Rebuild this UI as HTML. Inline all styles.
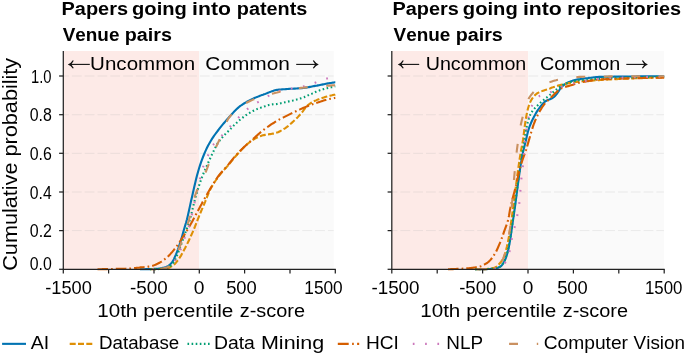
<!DOCTYPE html>
<html><head><meta charset="utf-8"><title>Cumulative probability of venue pairs</title>
<style>
html,body{margin:0;padding:0;background:#fff;}
svg{display:block;font-family:"Liberation Sans",sans-serif;}
text{fill:#000;font-kerning:none;white-space:pre;}
</style></head>
<body>
<svg width="685" height="355" viewBox="0 0 685 355">
<rect width="685" height="355" fill="#fff"/>
<rect x="63.3" y="51.0" width="135.7" height="218.3" fill="#fdeae7"/>
<rect x="199.0" y="51.0" width="134.7" height="218.3" fill="#fafafa"/>
<line x1="63.3" x2="333.7" y1="230.6" y2="230.6" stroke="#b0b0b0" stroke-opacity="0.26" stroke-width="0.9" stroke-dasharray="9.8 3" stroke-dashoffset="4.2"/>
<line x1="63.3" x2="333.7" y1="192.0" y2="192.0" stroke="#b0b0b0" stroke-opacity="0.26" stroke-width="0.9" stroke-dasharray="9.8 3" stroke-dashoffset="4.2"/>
<line x1="63.3" x2="333.7" y1="153.3" y2="153.3" stroke="#b0b0b0" stroke-opacity="0.26" stroke-width="0.9" stroke-dasharray="9.8 3" stroke-dashoffset="4.2"/>
<line x1="63.3" x2="333.7" y1="114.7" y2="114.7" stroke="#b0b0b0" stroke-opacity="0.26" stroke-width="0.9" stroke-dasharray="9.8 3" stroke-dashoffset="4.2"/>
<line x1="63.3" x2="333.7" y1="76.0" y2="76.0" stroke="#b0b0b0" stroke-opacity="0.26" stroke-width="0.9" stroke-dasharray="9.8 3" stroke-dashoffset="4.2"/>
<path d="M140.0,269.2 L141.0,269.2 L142.0,269.2 L143.0,269.2 L144.0,269.2 L145.0,269.2 L146.0,269.1 L147.0,269.1 L148.0,269.1 L149.0,269.1 L150.0,269.1 L151.0,269.0 L152.0,269.0 L153.0,269.0 L154.0,268.9 L155.0,268.9 L156.0,268.8 L157.0,268.8 L158.0,268.7 L159.0,268.6 L160.0,268.5 L161.0,268.3 L162.0,268.1 L163.0,267.8 L164.0,267.6 L165.0,267.3 L166.0,266.9 L167.0,266.6 L168.0,266.1 L169.0,265.4 L170.0,264.5 L171.0,263.5 L172.0,262.4 L173.0,260.9 L174.0,259.0 L175.0,256.7 L176.0,254.4 L177.0,251.9 L178.0,249.3 L179.0,246.4 L180.0,243.3 L181.0,240.1 L182.0,236.7 L183.0,233.0 L184.0,229.5 L185.0,226.1 L186.0,222.8 L187.0,219.2 L188.0,215.1 L189.0,210.6 L190.0,205.9 L191.0,201.3 L192.0,197.0 L193.0,192.6 L194.0,188.1 L195.0,183.8 L196.0,179.6 L197.0,175.6 L198.0,171.9 L199.0,168.5 L200.0,165.4 L201.0,162.4 L202.0,159.6 L203.0,157.0 L204.0,154.5 L205.0,152.2 L206.0,149.9 L207.0,147.8 L208.0,145.8 L209.0,144.0 L210.0,142.2 L211.0,140.5 L212.0,138.9 L213.0,137.4 L214.0,135.9 L215.0,134.5 L216.0,133.1 L217.0,131.8 L218.0,130.5 L219.0,129.2 L220.0,127.9 L221.0,126.6 L222.0,125.4 L223.0,124.2 L224.0,123.0 L225.0,121.8 L226.0,120.6 L227.0,119.5 L228.0,118.4 L229.0,117.3 L230.0,116.2 L231.0,115.1 L232.0,114.0 L233.0,112.9 L234.0,111.8 L235.0,110.8 L236.0,109.8 L237.0,108.8 L238.0,107.9 L239.0,107.0 L240.0,106.2 L241.0,105.5 L242.0,104.8 L243.0,104.1 L244.0,103.5 L245.0,102.9 L246.0,102.3 L247.0,101.7 L248.0,101.1 L249.0,100.6 L250.0,100.1 L251.0,99.6 L252.0,99.1 L253.0,98.7 L254.0,98.2 L255.0,97.8 L256.0,97.4 L257.0,97.0 L258.0,96.6 L259.0,96.2 L260.0,95.8 L261.0,95.4 L262.0,95.0 L263.0,94.7 L264.0,94.3 L265.0,94.0 L266.0,93.6 L267.0,93.2 L268.0,92.8 L269.0,92.4 L270.0,92.0 L271.0,91.6 L272.0,91.2 L273.0,90.9 L274.0,90.6 L275.0,90.3 L276.0,90.0 L277.0,89.9 L278.0,89.8 L279.0,89.6 L280.0,89.5 L281.0,89.5 L282.0,89.4 L283.0,89.3 L284.0,89.2 L285.0,89.2 L286.0,89.1 L287.0,89.0 L288.0,89.0 L289.0,88.9 L290.0,88.8 L291.0,88.8 L292.0,88.7 L293.0,88.7 L294.0,88.6 L295.0,88.6 L296.0,88.5 L297.0,88.5 L298.0,88.4 L299.0,88.3 L300.0,88.3 L301.0,88.2 L302.0,88.1 L303.0,88.0 L304.0,87.9 L305.0,87.8 L306.0,87.6 L307.0,87.5 L308.0,87.3 L309.0,87.1 L310.0,86.9 L311.0,86.7 L312.0,86.5 L313.0,86.3 L314.0,86.1 L315.0,85.9 L316.0,85.7 L317.0,85.6 L318.0,85.4 L319.0,85.2 L320.0,85.0 L321.0,84.8 L322.0,84.6 L323.0,84.4 L324.0,84.2 L325.0,84.0 L326.0,83.8 L327.0,83.6 L328.0,83.4 L329.0,83.3 L330.0,83.1 L331.0,83.0 L332.0,82.8 L333.0,82.6 L334.0,82.5 L335.0,82.3 L335.3,82.3" fill="none" stroke="#0173b2" stroke-width="2.1"/>
<path d="M150.0,269.2 L151.0,269.2 L152.0,269.2 L153.0,269.2 L154.0,269.2 L155.0,269.1 L156.0,269.1 L157.0,269.1 L158.0,269.1 L159.0,269.0 L160.0,269.0 L161.0,269.0 L162.0,268.9 L163.0,268.8 L164.0,268.7 L165.0,268.6 L166.0,268.4 L167.0,268.3 L168.0,268.0 L169.0,267.7 L170.0,267.2 L171.0,266.7 L172.0,266.1 L173.0,265.4 L174.0,264.7 L175.0,263.8 L176.0,262.7 L177.0,261.4 L178.0,260.1 L179.0,258.7 L180.0,257.2 L181.0,255.6 L182.0,253.8 L183.0,252.0 L184.0,250.1 L185.0,248.3 L186.0,246.3 L187.0,244.3 L188.0,242.3 L189.0,240.2 L190.0,238.0 L191.0,235.8 L192.0,233.6 L193.0,231.3 L194.0,228.9 L195.0,226.5 L196.0,223.9 L197.0,221.4 L198.0,218.8 L199.0,216.3 L200.0,213.9 L201.0,211.5 L202.0,209.2 L203.0,206.8 L204.0,204.5 L205.0,202.1 L206.0,199.5 L207.0,197.0 L208.0,194.5 L209.0,192.1 L210.0,190.0 L211.0,188.1 L212.0,186.3 L213.0,184.6 L214.0,183.0 L215.0,181.5 L216.0,180.0 L217.0,178.6 L218.0,177.2 L219.0,175.9 L220.0,174.6 L221.0,173.3 L222.0,172.2 L223.0,171.0 L224.0,169.9 L225.0,168.8 L226.0,167.7 L227.0,166.6 L228.0,165.5 L229.0,164.3 L230.0,163.1 L231.0,161.9 L232.0,160.6 L233.0,159.4 L234.0,158.2 L235.0,157.0 L236.0,155.8 L237.0,154.7 L238.0,153.5 L239.0,152.4 L240.0,151.4 L241.0,150.4 L242.0,149.3 L243.0,148.3 L244.0,147.3 L245.0,146.3 L246.0,145.3 L247.0,144.4 L248.0,143.5 L249.0,142.7 L250.0,141.9 L251.0,141.1 L252.0,140.5 L253.0,139.8 L254.0,139.2 L255.0,138.7 L256.0,138.1 L257.0,137.6 L258.0,137.1 L259.0,136.6 L260.0,136.2 L261.0,135.9 L262.0,135.6 L263.0,135.3 L264.0,135.1 L265.0,134.9 L266.0,134.7 L267.0,134.5 L268.0,134.4 L269.0,134.3 L270.0,134.1 L271.0,134.0 L272.0,133.8 L273.0,133.6 L274.0,133.4 L275.0,133.2 L276.0,132.9 L277.0,132.6 L278.0,132.2 L279.0,131.7 L280.0,131.2 L281.0,130.7 L282.0,130.1 L283.0,129.5 L284.0,128.9 L285.0,128.3 L286.0,127.6 L287.0,126.9 L288.0,126.1 L289.0,125.2 L290.0,124.4 L291.0,123.5 L292.0,122.6 L293.0,121.7 L294.0,120.8 L295.0,119.9 L296.0,118.9 L297.0,117.9 L298.0,116.9 L299.0,115.8 L300.0,114.7 L301.0,113.6 L302.0,112.4 L303.0,111.1 L304.0,109.7 L305.0,108.3 L306.0,107.0 L307.0,106.0 L308.0,105.1 L309.0,104.4 L310.0,103.7 L311.0,103.0 L312.0,102.4 L313.0,101.8 L314.0,101.3 L315.0,100.8 L316.0,100.4 L317.0,99.9 L318.0,99.5 L319.0,99.1 L320.0,98.7 L321.0,98.3 L322.0,98.0 L323.0,97.7 L324.0,97.4 L325.0,97.1 L326.0,96.8 L327.0,96.5 L328.0,96.2 L329.0,96.0 L330.0,95.7 L331.0,95.5 L332.0,95.3 L333.0,95.0 L334.0,94.8 L335.0,94.7 L335.3,94.6" fill="none" stroke="#de8f05" stroke-width="2.1" stroke-dasharray="6 2.3"/>
<path d="M150.0,269.2 L151.0,269.2 L152.0,269.2 L153.0,269.2 L154.0,269.2 L155.0,269.1 L156.0,269.1 L157.0,269.1 L158.0,269.1 L159.0,269.0 L160.0,269.0 L161.0,268.9 L162.0,268.8 L163.0,268.7 L164.0,268.4 L165.0,268.2 L166.0,267.9 L167.0,267.5 L168.0,267.1 L169.0,266.7 L170.0,266.2 L171.0,265.4 L172.0,264.4 L173.0,263.1 L174.0,261.6 L175.0,260.0 L176.0,258.0 L177.0,255.5 L178.0,252.9 L179.0,250.4 L180.0,247.7 L181.0,244.9 L182.0,242.1 L183.0,239.3 L184.0,236.4 L185.0,233.7 L186.0,231.0 L187.0,228.3 L188.0,225.5 L189.0,222.4 L190.0,219.1 L191.0,215.3 L192.0,211.4 L193.0,207.2 L194.0,203.1 L195.0,199.2 L196.0,195.5 L197.0,192.1 L198.0,188.9 L199.0,185.8 L200.0,182.8 L201.0,179.9 L202.0,177.2 L203.0,174.6 L204.0,172.2 L205.0,169.9 L206.0,167.6 L207.0,165.4 L208.0,163.2 L209.0,161.0 L210.0,158.8 L211.0,156.6 L212.0,154.4 L213.0,152.3 L214.0,150.3 L215.0,148.3 L216.0,146.3 L217.0,144.4 L218.0,142.8 L219.0,141.4 L220.0,140.1 L221.0,138.8 L222.0,137.7 L223.0,136.6 L224.0,135.6 L225.0,134.5 L226.0,133.5 L227.0,132.5 L228.0,131.5 L229.0,130.5 L230.0,129.4 L231.0,128.4 L232.0,127.4 L233.0,126.3 L234.0,125.3 L235.0,124.3 L236.0,123.4 L237.0,122.5 L238.0,121.6 L239.0,120.7 L240.0,119.8 L241.0,119.0 L242.0,118.2 L243.0,117.4 L244.0,116.6 L245.0,115.9 L246.0,115.2 L247.0,114.5 L248.0,113.9 L249.0,113.3 L250.0,112.7 L251.0,112.1 L252.0,111.5 L253.0,111.0 L254.0,110.5 L255.0,110.0 L256.0,109.6 L257.0,109.1 L258.0,108.7 L259.0,108.3 L260.0,108.0 L261.0,107.6 L262.0,107.2 L263.0,106.9 L264.0,106.5 L265.0,106.2 L266.0,105.8 L267.0,105.5 L268.0,105.2 L269.0,104.9 L270.0,104.7 L271.0,104.5 L272.0,104.4 L273.0,104.3 L274.0,104.2 L275.0,104.2 L276.0,104.1 L277.0,104.0 L278.0,103.8 L279.0,103.7 L280.0,103.5 L281.0,103.2 L282.0,103.0 L283.0,102.8 L284.0,102.5 L285.0,102.3 L286.0,102.1 L287.0,101.9 L288.0,101.6 L289.0,101.4 L290.0,101.2 L291.0,100.9 L292.0,100.7 L293.0,100.5 L294.0,100.2 L295.0,100.0 L296.0,99.7 L297.0,99.4 L298.0,99.2 L299.0,98.9 L300.0,98.6 L301.0,98.3 L302.0,98.0 L303.0,97.6 L304.0,97.3 L305.0,96.8 L306.0,96.4 L307.0,95.9 L308.0,95.4 L309.0,94.9 L310.0,94.5 L311.0,94.0 L312.0,93.6 L313.0,93.1 L314.0,92.7 L315.0,92.2 L316.0,91.8 L317.0,91.4 L318.0,91.0 L319.0,90.6 L320.0,90.2 L321.0,89.9 L322.0,89.6 L323.0,89.3 L324.0,89.0 L325.0,88.7 L326.0,88.4 L327.0,88.2 L328.0,87.9 L329.0,87.7 L330.0,87.5 L331.0,87.3 L332.0,87.1 L333.0,86.9 L334.0,86.7 L335.0,86.5 L335.3,86.5" fill="none" stroke="#029e73" stroke-width="2.1" stroke-dasharray="1.6 2.5"/>
<path d="M97.5,269.2 L98.5,269.2 L99.5,269.2 L100.5,269.2 L101.5,269.2 L102.5,269.1 L103.5,269.1 L104.5,269.1 L105.5,269.1 L106.5,269.1 L107.5,269.1 L108.5,269.0 L109.5,269.0 L110.5,269.0 L111.5,269.0 L112.5,269.0 L113.5,268.9 L114.5,268.9 L115.5,268.9 L116.5,268.9 L117.5,268.9 L118.5,268.8 L119.5,268.8 L120.5,268.8 L121.5,268.8 L122.5,268.7 L123.5,268.7 L124.5,268.7 L125.5,268.7 L126.5,268.6 L127.5,268.6 L128.5,268.6 L129.5,268.5 L130.5,268.5 L131.5,268.4 L132.5,268.3 L133.5,268.2 L134.5,268.1 L135.5,268.0 L136.5,267.9 L137.5,267.8 L138.5,267.7 L139.5,267.6 L140.5,267.4 L141.5,267.4 L142.5,267.3 L143.5,267.2 L144.5,267.1 L145.5,267.0 L146.5,266.9 L147.5,266.8 L148.5,266.6 L149.5,266.5 L150.5,266.3 L151.5,266.1 L152.5,265.8 L153.5,265.5 L154.5,265.1 L155.5,264.7 L156.5,264.2 L157.5,263.8 L158.5,263.3 L159.5,262.8 L160.5,262.2 L161.5,261.6 L162.5,260.9 L163.5,260.2 L164.5,259.4 L165.5,258.6 L166.5,257.7 L167.5,256.9 L168.5,255.9 L169.5,254.9 L170.5,253.9 L171.5,252.7 L172.5,251.6 L173.5,250.4 L174.5,249.1 L175.5,247.9 L176.5,246.6 L177.5,245.2 L178.5,243.8 L179.5,242.3 L180.5,240.7 L181.5,239.2 L182.5,237.6 L183.5,236.1 L184.5,234.5 L185.5,232.9 L186.5,231.3 L187.5,229.6 L188.5,227.9 L189.5,226.2 L190.5,224.5 L191.5,222.7 L192.5,220.9 L193.5,219.1 L194.5,217.2 L195.5,215.4 L196.5,213.5 L197.5,211.7 L198.5,209.8 L199.5,207.9 L200.5,206.0 L201.5,204.2 L202.5,202.3 L203.5,200.5 L204.5,198.7 L205.5,196.9 L206.5,195.2 L207.5,193.4 L208.5,191.7 L209.5,190.0 L210.5,188.3 L211.5,186.7 L212.5,185.1 L213.5,183.5 L214.5,181.9 L215.5,180.3 L216.5,178.8 L217.5,177.3 L218.5,175.9 L219.5,174.6 L220.5,173.4 L221.5,172.2 L222.5,171.1 L223.5,170.0 L224.5,169.0 L225.5,167.9 L226.5,166.8 L227.5,165.6 L228.5,164.4 L229.5,163.1 L230.5,161.8 L231.5,160.6 L232.5,159.4 L233.5,158.2 L234.5,157.0 L235.5,155.8 L236.5,154.7 L237.5,153.6 L238.5,152.5 L239.5,151.4 L240.5,150.4 L241.5,149.4 L242.5,148.5 L243.5,147.5 L244.5,146.6 L245.5,145.7 L246.5,144.8 L247.5,143.9 L248.5,143.1 L249.5,142.2 L250.5,141.3 L251.5,140.4 L252.5,139.5 L253.5,138.6 L254.5,137.7 L255.5,136.8 L256.5,135.9 L257.5,135.0 L258.5,134.1 L259.5,133.2 L260.5,132.4 L261.5,131.6 L262.5,130.8 L263.5,130.0 L264.5,129.2 L265.5,128.5 L266.5,127.7 L267.5,127.0 L268.5,126.3 L269.5,125.6 L270.5,124.9 L271.5,124.2 L272.5,123.6 L273.5,123.0 L274.5,122.3 L275.5,121.7 L276.5,121.1 L277.5,120.6 L278.5,120.0 L279.5,119.4 L280.5,118.9 L281.5,118.4 L282.5,117.9 L283.5,117.4 L284.5,116.9 L285.5,116.4 L286.5,115.9 L287.5,115.4 L288.5,114.9 L289.5,114.4 L290.5,113.9 L291.5,113.4 L292.5,112.9 L293.5,112.4 L294.5,112.0 L295.5,111.5 L296.5,111.0 L297.5,110.5 L298.5,110.1 L299.5,109.6 L300.5,109.1 L301.5,108.7 L302.5,108.3 L303.5,107.8 L304.5,107.4 L305.5,107.0 L306.5,106.6 L307.5,106.2 L308.5,105.8 L309.5,105.4 L310.5,105.1 L311.5,104.7 L312.5,104.3 L313.5,104.0 L314.5,103.6 L315.5,103.3 L316.5,102.9 L317.5,102.6 L318.5,102.2 L319.5,101.9 L320.5,101.6 L321.5,101.2 L322.5,100.9 L323.5,100.6 L324.5,100.3 L325.5,100.0 L326.5,99.7 L327.5,99.4 L328.5,99.2 L329.5,99.0 L330.5,98.8 L331.5,98.6 L332.5,98.4 L333.5,98.2 L334.5,98.0 L335.3,97.9" fill="none" stroke="#d55e00" stroke-width="2.1" stroke-dasharray="10.6 3 1.7 3"/>
<path d="M150.0,269.2 L151.0,269.2 L152.0,269.2 L153.0,269.2 L154.0,269.2 L155.0,269.1 L156.0,269.1 L157.0,269.1 L158.0,269.1 L159.0,269.0 L160.0,269.0 L161.0,268.9 L162.0,268.8 L163.0,268.5 L164.0,268.2 L165.0,267.9 L166.0,267.5 L167.0,267.1 L168.0,266.6 L169.0,266.0 L170.0,265.2 L171.0,264.3 L172.0,263.3 L173.0,262.3 L174.0,261.2 L175.0,260.2 L176.0,259.0 L177.0,257.7 L178.0,256.1 L179.0,254.3 L180.0,251.7 L181.0,248.4 L182.0,245.0 L183.0,242.0 L184.0,239.5 L185.0,237.2 L186.0,234.9 L187.0,232.4 L188.0,229.5 L189.0,226.1 L190.0,222.3 L191.0,218.4 L192.0,214.3 L193.0,209.9 L194.0,205.3 L195.0,200.7 L196.0,196.0 L197.0,191.2 L198.0,186.9 L199.0,183.0 L200.0,179.2 L201.0,175.1 L202.0,170.9 L203.0,167.3 L204.0,164.5 L205.0,162.2 L206.0,160.1 L207.0,157.9 L208.0,155.5 L209.0,152.9 L210.0,150.3 L211.0,148.1 L212.0,146.4 L213.0,145.0 L214.0,143.9 L215.0,142.8 L216.0,141.8 L217.0,140.8 L218.0,139.8 L219.0,138.8 L220.0,137.7 L221.0,136.5 L222.0,135.4 L223.0,134.3 L224.0,133.2 L225.0,132.1 L226.0,131.0 L227.0,129.9 L228.0,128.8 L229.0,127.8 L230.0,126.7 L231.0,125.6 L232.0,124.5 L233.0,123.5 L234.0,122.4 L235.0,121.3 L236.0,120.3 L237.0,119.2 L238.0,118.1 L239.0,117.1 L240.0,116.1 L241.0,115.1 L242.0,114.1 L243.0,113.1 L244.0,112.2 L245.0,111.2 L246.0,110.3 L247.0,109.4 L248.0,108.6 L249.0,107.8 L250.0,107.0 L251.0,106.3 L252.0,105.7 L253.0,105.0 L254.0,104.5 L255.0,103.9 L256.0,103.3 L257.0,102.7 L258.0,102.1 L259.0,101.5 L260.0,100.9 L261.0,100.3 L262.0,99.7 L263.0,99.1 L264.0,98.4 L265.0,97.8 L266.0,97.2 L267.0,96.7 L268.0,96.1 L269.0,95.6 L270.0,95.0 L271.0,94.5 L272.0,93.9 L273.0,93.4 L274.0,92.9 L275.0,92.4 L276.0,91.9 L277.0,91.6 L278.0,91.2 L279.0,90.9 L280.0,90.7 L281.0,90.5 L282.0,90.2 L283.0,90.0 L284.0,89.8 L285.0,89.7 L286.0,89.5 L287.0,89.3 L288.0,89.1 L289.0,89.0 L290.0,88.8 L291.0,88.6 L292.0,88.5 L293.0,88.4 L294.0,88.2 L295.0,88.1 L296.0,87.9 L297.0,87.8 L298.0,87.6 L299.0,87.4 L300.0,87.2 L301.0,87.0 L302.0,86.8 L303.0,86.6 L304.0,86.3 L305.0,86.1 L306.0,85.8 L307.0,85.5 L308.0,85.2 L309.0,84.9 L310.0,84.6 L311.0,84.3 L312.0,84.0 L313.0,83.6 L314.0,83.2 L315.0,82.8 L316.0,82.4 L317.0,82.0 L318.0,81.6 L319.0,81.2 L320.0,80.8 L321.0,80.4 L322.0,80.1 L323.0,79.7 L324.0,79.4 L325.0,79.1 L326.0,78.8 L327.0,78.5 L328.0,78.2 L329.0,77.8 L330.0,77.5 L331.0,77.2 L332.0,76.9 L333.0,76.5 L334.0,76.2 L335.0,75.9 L335.3,75.8" fill="none" stroke="#cc78bc" stroke-width="2.1" stroke-dasharray="1.7 10.6" stroke-dashoffset="9.84"/>
<path d="M150.0,269.2 L151.0,269.2 L152.0,269.2 L153.0,269.2 L154.0,269.2 L155.0,269.1 L156.0,269.1 L157.0,269.1 L158.0,269.1 L159.0,269.0 L160.0,269.0 L161.0,268.9 L162.0,268.8 L163.0,268.6 L164.0,268.4 L165.0,268.1 L166.0,267.8 L167.0,267.4 L168.0,267.0 L169.0,266.5 L170.0,266.0 L171.0,265.1 L172.0,263.7 L173.0,261.9 L174.0,260.0 L175.0,258.0 L176.0,255.9 L177.0,253.7 L178.0,251.2 L179.0,248.6 L180.0,246.1 L181.0,243.4 L182.0,240.8 L183.0,238.0 L184.0,235.2 L185.0,232.3 L186.0,229.4 L187.0,226.2 L188.0,223.0 L189.0,219.7 L190.0,215.8 L191.0,211.6 L192.0,207.2 L193.0,202.9 L194.0,199.0 L195.0,195.8 L196.0,193.0 L197.0,190.5 L198.0,188.1 L199.0,185.9 L200.0,183.8 L201.0,181.8 L202.0,179.8 L203.0,177.7 L204.0,175.7 L205.0,173.5 L206.0,171.3 L207.0,168.8 L208.0,166.2 L209.0,163.5 L210.0,160.7 L211.0,158.0 L212.0,155.5 L213.0,153.2 L214.0,151.1 L215.0,149.0 L216.0,147.0 L217.0,145.0 L218.0,142.9 L219.0,140.7 L220.0,138.3 L221.0,135.7 L222.0,133.1 L223.0,130.5 L224.0,127.9 L225.0,125.4 L226.0,123.1 L227.0,121.0 L228.0,119.2 L229.0,117.7 L230.0,116.4 L231.0,115.2 L232.0,114.0 L233.0,113.0 L234.0,112.0 L235.0,111.0 L236.0,110.2 L237.0,109.3 L238.0,108.5 L239.0,107.7 L240.0,107.0 L241.0,106.3 L242.0,105.6 L243.0,104.9 L244.0,104.3 L245.0,103.7 L246.0,103.1 L247.0,102.5 L248.0,102.0 L249.0,101.5 L250.0,101.0 L251.0,100.5 L252.0,100.1 L253.0,99.6 L254.0,99.2 L255.0,98.8 L256.0,98.4 L257.0,98.0 L258.0,97.7 L259.0,97.3 L260.0,97.0 L261.0,96.6 L262.0,96.3 L263.0,96.0 L264.0,95.7 L265.0,95.4 L266.0,95.1 L267.0,94.9 L268.0,94.6 L269.0,94.4 L270.0,94.1 L271.0,93.9 L272.0,93.7 L273.0,93.4 L274.0,93.2 L275.0,92.9 L276.0,92.7 L277.0,92.5 L278.0,92.2 L279.0,92.0 L280.0,91.7 L281.0,91.5 L282.0,91.2 L283.0,91.0 L284.0,90.7 L285.0,90.5 L286.0,90.3 L287.0,90.1 L288.0,89.9 L289.0,89.7 L290.0,89.5 L291.0,89.3 L292.0,89.2 L293.0,89.0 L294.0,88.9 L295.0,88.7 L296.0,88.6 L297.0,88.4 L298.0,88.3 L299.0,88.2 L300.0,88.1 L301.0,87.9 L302.0,87.8 L303.0,87.7 L304.0,87.6 L305.0,87.5 L306.0,87.4 L307.0,87.3 L308.0,87.2 L309.0,87.1 L310.0,87.0 L311.0,86.9 L312.0,86.8 L313.0,86.8 L314.0,86.7 L315.0,86.6 L316.0,86.5 L317.0,86.4 L318.0,86.4 L319.0,86.3 L320.0,86.2 L321.0,86.2 L322.0,86.1 L323.0,86.0 L324.0,86.0 L325.0,85.9 L326.0,85.8 L327.0,85.8 L328.0,85.7 L329.0,85.6 L330.0,85.6 L331.0,85.5 L332.0,85.4 L333.0,85.4 L334.0,85.3 L335.0,85.2 L335.3,85.2" fill="none" stroke="#ca9161" stroke-width="2.1" stroke-dasharray="8.9 18.6" stroke-dashoffset="16.43"/>
<line x1="63.3" x2="63.3" y1="51.0" y2="269.8" stroke="#222" stroke-width="1.25"/>
<line x1="62.8" x2="335.8" y1="269.3" y2="269.3" stroke="#222" stroke-width="1.25"/>
<line x1="63.3" x2="63.3" y1="269.3" y2="273.5" stroke="#222" stroke-width="1.25"/>
<line x1="108.6" x2="108.6" y1="269.3" y2="273.5" stroke="#222" stroke-width="1.25"/>
<line x1="154.0" x2="154.0" y1="269.3" y2="273.5" stroke="#222" stroke-width="1.25"/>
<line x1="199.3" x2="199.3" y1="269.3" y2="273.5" stroke="#222" stroke-width="1.25"/>
<line x1="244.6" x2="244.6" y1="269.3" y2="273.5" stroke="#222" stroke-width="1.25"/>
<line x1="290.0" x2="290.0" y1="269.3" y2="273.5" stroke="#222" stroke-width="1.25"/>
<line x1="335.3" x2="335.3" y1="269.3" y2="273.5" stroke="#222" stroke-width="1.25"/>
<line x1="59.099999999999994" x2="63.3" y1="269.3" y2="269.3" stroke="#222" stroke-width="1.25"/>
<line x1="59.099999999999994" x2="63.3" y1="230.6" y2="230.6" stroke="#222" stroke-width="1.25"/>
<line x1="59.099999999999994" x2="63.3" y1="192.0" y2="192.0" stroke="#222" stroke-width="1.25"/>
<line x1="59.099999999999994" x2="63.3" y1="153.3" y2="153.3" stroke="#222" stroke-width="1.25"/>
<line x1="59.099999999999994" x2="63.3" y1="114.7" y2="114.7" stroke="#222" stroke-width="1.25"/>
<line x1="59.099999999999994" x2="63.3" y1="76.0" y2="76.0" stroke="#222" stroke-width="1.25"/>
<rect x="391.8" y="51.0" width="136.4" height="218.3" fill="#fdeae7"/>
<rect x="528.2" y="51.0" width="135.7" height="218.3" fill="#fafafa"/>
<line x1="391.8" x2="663.9" y1="230.6" y2="230.6" stroke="#b0b0b0" stroke-opacity="0.26" stroke-width="0.9" stroke-dasharray="9.8 3" stroke-dashoffset="4.2"/>
<line x1="391.8" x2="663.9" y1="192.0" y2="192.0" stroke="#b0b0b0" stroke-opacity="0.26" stroke-width="0.9" stroke-dasharray="9.8 3" stroke-dashoffset="4.2"/>
<line x1="391.8" x2="663.9" y1="153.3" y2="153.3" stroke="#b0b0b0" stroke-opacity="0.26" stroke-width="0.9" stroke-dasharray="9.8 3" stroke-dashoffset="4.2"/>
<line x1="391.8" x2="663.9" y1="114.7" y2="114.7" stroke="#b0b0b0" stroke-opacity="0.26" stroke-width="0.9" stroke-dasharray="9.8 3" stroke-dashoffset="4.2"/>
<line x1="391.8" x2="663.9" y1="76.0" y2="76.0" stroke="#b0b0b0" stroke-opacity="0.26" stroke-width="0.9" stroke-dasharray="9.8 3" stroke-dashoffset="4.2"/>
<path d="M475.0,269.2 L476.0,269.2 L477.0,269.2 L478.0,269.2 L479.0,269.2 L480.0,269.2 L481.0,269.2 L482.0,269.1 L483.0,269.1 L484.0,269.1 L485.0,269.1 L486.0,269.1 L487.0,269.1 L488.0,269.0 L489.0,269.0 L490.0,269.0 L491.0,268.9 L492.0,268.9 L493.0,268.8 L494.0,268.8 L495.0,268.6 L496.0,268.4 L497.0,268.1 L498.0,267.8 L499.0,267.3 L500.0,266.8 L501.0,266.2 L502.0,265.1 L503.0,263.7 L504.0,262.0 L505.0,260.1 L506.0,257.6 L507.0,254.5 L508.0,250.9 L509.0,246.3 L510.0,240.7 L511.0,234.4 L512.0,227.2 L513.0,220.4 L514.0,213.6 L515.0,206.5 L516.0,199.0 L517.0,191.4 L518.0,183.8 L519.0,176.4 L520.0,169.4 L521.0,162.9 L522.0,157.1 L523.0,152.1 L524.0,147.9 L525.0,144.0 L526.0,139.9 L527.0,135.6 L528.0,131.5 L529.0,128.2 L530.0,125.5 L531.0,123.0 L532.0,120.8 L533.0,118.8 L534.0,116.8 L535.0,114.9 L536.0,113.1 L537.0,111.4 L538.0,109.9 L539.0,108.5 L540.0,107.1 L541.0,105.8 L542.0,104.6 L543.0,103.5 L544.0,102.5 L545.0,101.7 L546.0,101.0 L547.0,100.4 L548.0,100.0 L549.0,99.6 L550.0,99.2 L551.0,98.8 L552.0,98.3 L553.0,97.7 L554.0,97.0 L555.0,96.1 L556.0,94.9 L557.0,93.6 L558.0,92.2 L559.0,90.7 L560.0,89.0 L561.0,87.5 L562.0,86.5 L563.0,85.6 L564.0,84.9 L565.0,84.1 L566.0,83.5 L567.0,82.9 L568.0,82.4 L569.0,82.0 L570.0,81.6 L571.0,81.2 L572.0,80.9 L573.0,80.6 L574.0,80.3 L575.0,80.0 L576.0,79.8 L577.0,79.6 L578.0,79.4 L579.0,79.2 L580.0,79.1 L581.0,78.9 L582.0,78.8 L583.0,78.7 L584.0,78.5 L585.0,78.4 L586.0,78.3 L587.0,78.2 L588.0,78.1 L589.0,77.9 L590.0,77.8 L591.0,77.7 L592.0,77.6 L593.0,77.5 L594.0,77.3 L595.0,77.2 L596.0,77.1 L597.0,77.1 L598.0,77.0 L599.0,76.9 L600.0,76.9 L601.0,76.9 L602.0,76.9 L603.0,76.8 L604.0,76.8 L605.0,76.8 L606.0,76.8 L607.0,76.7 L608.0,76.7 L609.0,76.7 L610.0,76.7 L611.0,76.7 L612.0,76.7 L613.0,76.7 L614.0,76.6 L615.0,76.6 L616.0,76.6 L617.0,76.6 L618.0,76.6 L619.0,76.6 L620.0,76.6 L621.0,76.6 L622.0,76.6 L623.0,76.6 L624.0,76.5 L625.0,76.5 L626.0,76.5 L627.0,76.5 L628.0,76.5 L629.0,76.5 L630.0,76.5 L631.0,76.5 L632.0,76.5 L633.0,76.5 L634.0,76.5 L635.0,76.5 L636.0,76.5 L637.0,76.4 L638.0,76.4 L639.0,76.4 L640.0,76.4 L641.0,76.4 L642.0,76.4 L643.0,76.4 L644.0,76.4 L645.0,76.4 L646.0,76.4 L647.0,76.4 L648.0,76.4 L649.0,76.4 L650.0,76.4 L651.0,76.3 L652.0,76.3 L653.0,76.3 L654.0,76.3 L655.0,76.3 L656.0,76.3 L657.0,76.3 L658.0,76.3 L659.0,76.3 L660.0,76.3 L661.0,76.3 L662.0,76.3 L663.0,76.3 L664.0,76.3 L664.2,76.3" fill="none" stroke="#0173b2" stroke-width="2.1"/>
<path d="M475.0,269.2 L476.0,269.2 L477.0,269.2 L478.0,269.2 L479.0,269.2 L480.0,269.2 L481.0,269.2 L482.0,269.1 L483.0,269.1 L484.0,269.1 L485.0,269.1 L486.0,269.1 L487.0,269.0 L488.0,268.9 L489.0,268.8 L490.0,268.6 L491.0,268.5 L492.0,268.3 L493.0,268.0 L494.0,267.8 L495.0,267.5 L496.0,267.0 L497.0,266.3 L498.0,265.3 L499.0,264.1 L500.0,263.0 L501.0,261.8 L502.0,260.5 L503.0,258.9 L504.0,256.9 L505.0,254.0 L506.0,250.4 L507.0,246.3 L508.0,241.6 L509.0,236.1 L510.0,230.0 L511.0,223.2 L512.0,216.0 L513.0,208.7 L514.0,201.1 L515.0,193.3 L516.0,185.5 L517.0,177.8 L518.0,170.4 L519.0,163.3 L520.0,156.7 L521.0,150.8 L522.0,145.8 L523.0,140.0 L524.0,132.3 L525.0,124.3 L526.0,118.0 L527.0,112.6 L528.0,108.5 L529.0,105.3 L530.0,102.6 L531.0,100.5 L532.0,98.9 L533.0,97.4 L534.0,96.2 L535.0,95.1 L536.0,94.2 L537.0,93.5 L538.0,92.9 L539.0,92.4 L540.0,91.9 L541.0,91.5 L542.0,91.1 L543.0,90.7 L544.0,90.4 L545.0,90.1 L546.0,89.7 L547.0,89.4 L548.0,89.1 L549.0,88.7 L550.0,88.4 L551.0,88.0 L552.0,87.6 L553.0,87.3 L554.0,86.9 L555.0,86.6 L556.0,86.3 L557.0,85.9 L558.0,85.6 L559.0,85.4 L560.0,85.1 L561.0,84.9 L562.0,84.6 L563.0,84.4 L564.0,84.1 L565.0,83.9 L566.0,83.7 L567.0,83.5 L568.0,83.3 L569.0,83.1 L570.0,82.9 L571.0,82.8 L572.0,82.6 L573.0,82.4 L574.0,82.3 L575.0,82.2 L576.0,82.0 L577.0,81.9 L578.0,81.8 L579.0,81.6 L580.0,81.5 L581.0,81.4 L582.0,81.3 L583.0,81.2 L584.0,81.1 L585.0,81.0 L586.0,81.0 L587.0,80.9 L588.0,80.8 L589.0,80.7 L590.0,80.6 L591.0,80.6 L592.0,80.5 L593.0,80.4 L594.0,80.4 L595.0,80.3 L596.0,80.2 L597.0,80.2 L598.0,80.1 L599.0,80.1 L600.0,80.0 L601.0,79.9 L602.0,79.9 L603.0,79.8 L604.0,79.8 L605.0,79.7 L606.0,79.7 L607.0,79.6 L608.0,79.5 L609.0,79.5 L610.0,79.4 L611.0,79.4 L612.0,79.3 L613.0,79.3 L614.0,79.2 L615.0,79.2 L616.0,79.1 L617.0,79.1 L618.0,79.0 L619.0,79.0 L620.0,78.9 L621.0,78.9 L622.0,78.8 L623.0,78.8 L624.0,78.8 L625.0,78.7 L626.0,78.7 L627.0,78.6 L628.0,78.6 L629.0,78.5 L630.0,78.5 L631.0,78.5 L632.0,78.4 L633.0,78.4 L634.0,78.3 L635.0,78.3 L636.0,78.3 L637.0,78.2 L638.0,78.2 L639.0,78.2 L640.0,78.1 L641.0,78.1 L642.0,78.1 L643.0,78.0 L644.0,78.0 L645.0,77.9 L646.0,77.9 L647.0,77.9 L648.0,77.8 L649.0,77.8 L650.0,77.8 L651.0,77.8 L652.0,77.7 L653.0,77.7 L654.0,77.7 L655.0,77.6 L656.0,77.6 L657.0,77.6 L658.0,77.6 L659.0,77.5 L660.0,77.5 L661.0,77.5 L662.0,77.5 L663.0,77.4 L664.0,77.4 L664.2,77.4" fill="none" stroke="#de8f05" stroke-width="2.1" stroke-dasharray="6 2.3"/>
<path d="M475.0,269.2 L476.0,269.2 L477.0,269.2 L478.0,269.2 L479.0,269.2 L480.0,269.2 L481.0,269.2 L482.0,269.1 L483.0,269.1 L484.0,269.1 L485.0,269.1 L486.0,269.1 L487.0,269.1 L488.0,269.0 L489.0,269.0 L490.0,269.0 L491.0,268.9 L492.0,268.9 L493.0,268.8 L494.0,268.8 L495.0,268.6 L496.0,268.4 L497.0,268.1 L498.0,267.7 L499.0,267.2 L500.0,266.7 L501.0,266.0 L502.0,264.8 L503.0,263.3 L504.0,261.5 L505.0,259.4 L506.0,256.7 L507.0,253.4 L508.0,249.7 L509.0,244.9 L510.0,239.3 L511.0,233.3 L512.0,226.5 L513.0,219.4 L514.0,212.1 L515.0,204.7 L516.0,197.3 L517.0,189.8 L518.0,182.3 L519.0,175.0 L520.0,168.0 L521.0,161.3 L522.0,155.0 L523.0,149.4 L524.0,143.0 L525.0,136.3 L526.0,130.3 L527.0,125.6 L528.0,121.3 L529.0,117.9 L530.0,115.3 L531.0,113.3 L532.0,111.7 L533.0,110.3 L534.0,109.1 L535.0,108.0 L536.0,107.0 L537.0,106.0 L538.0,105.0 L539.0,104.0 L540.0,103.1 L541.0,102.2 L542.0,101.4 L543.0,100.5 L544.0,99.7 L545.0,98.9 L546.0,98.1 L547.0,97.3 L548.0,96.5 L549.0,95.7 L550.0,94.8 L551.0,94.0 L552.0,93.2 L553.0,92.3 L554.0,91.5 L555.0,90.7 L556.0,89.9 L557.0,89.1 L558.0,88.4 L559.0,87.6 L560.0,86.9 L561.0,86.2 L562.0,85.6 L563.0,85.0 L564.0,84.5 L565.0,84.1 L566.0,83.6 L567.0,83.2 L568.0,82.9 L569.0,82.5 L570.0,82.2 L571.0,81.9 L572.0,81.7 L573.0,81.4 L574.0,81.2 L575.0,81.0 L576.0,80.8 L577.0,80.6 L578.0,80.4 L579.0,80.3 L580.0,80.2 L581.0,80.1 L582.0,80.1 L583.0,80.0 L584.0,79.9 L585.0,79.9 L586.0,79.8 L587.0,79.8 L588.0,79.7 L589.0,79.6 L590.0,79.6 L591.0,79.5 L592.0,79.4 L593.0,79.3 L594.0,79.2 L595.0,79.1 L596.0,79.0 L597.0,78.9 L598.0,78.8 L599.0,78.7 L600.0,78.6 L601.0,78.5 L602.0,78.5 L603.0,78.4 L604.0,78.4 L605.0,78.3 L606.0,78.3 L607.0,78.2 L608.0,78.2 L609.0,78.2 L610.0,78.1 L611.0,78.1 L612.0,78.0 L613.0,78.0 L614.0,78.0 L615.0,77.9 L616.0,77.9 L617.0,77.9 L618.0,77.8 L619.0,77.8 L620.0,77.8 L621.0,77.7 L622.0,77.7 L623.0,77.7 L624.0,77.7 L625.0,77.6 L626.0,77.6 L627.0,77.6 L628.0,77.6 L629.0,77.5 L630.0,77.5 L631.0,77.5 L632.0,77.4 L633.0,77.4 L634.0,77.4 L635.0,77.4 L636.0,77.3 L637.0,77.3 L638.0,77.3 L639.0,77.3 L640.0,77.2 L641.0,77.2 L642.0,77.2 L643.0,77.2 L644.0,77.2 L645.0,77.1 L646.0,77.1 L647.0,77.1 L648.0,77.1 L649.0,77.0 L650.0,77.0 L651.0,77.0 L652.0,77.0 L653.0,77.0 L654.0,77.0 L655.0,76.9 L656.0,76.9 L657.0,76.9 L658.0,76.9 L659.0,76.9 L660.0,76.9 L661.0,76.8 L662.0,76.8 L663.0,76.8 L664.0,76.8 L664.2,76.8" fill="none" stroke="#029e73" stroke-width="2.1" stroke-dasharray="1.6 2.5"/>
<path d="M448.0,269.2 L449.0,269.2 L450.0,269.2 L451.0,269.1 L452.0,269.1 L453.0,269.1 L454.0,269.0 L455.0,269.0 L456.0,269.0 L457.0,268.9 L458.0,268.9 L459.0,268.8 L460.0,268.8 L461.0,268.8 L462.0,268.7 L463.0,268.6 L464.0,268.6 L465.0,268.5 L466.0,268.4 L467.0,268.4 L468.0,268.3 L469.0,268.2 L470.0,268.1 L471.0,268.0 L472.0,267.9 L473.0,267.8 L474.0,267.6 L475.0,267.5 L476.0,267.3 L477.0,267.1 L478.0,266.9 L479.0,266.7 L480.0,266.5 L481.0,266.2 L482.0,265.8 L483.0,265.3 L484.0,264.8 L485.0,264.2 L486.0,263.6 L487.0,263.0 L488.0,262.3 L489.0,261.4 L490.0,260.4 L491.0,259.3 L492.0,258.0 L493.0,256.6 L494.0,255.1 L495.0,253.6 L496.0,251.8 L497.0,249.7 L498.0,247.5 L499.0,245.2 L500.0,242.8 L501.0,240.3 L502.0,237.6 L503.0,234.8 L504.0,231.9 L505.0,229.0 L506.0,226.4 L507.0,223.7 L508.0,220.4 L509.0,215.7 L510.0,209.7 L511.0,205.0 L512.0,200.8 L513.0,196.9 L514.0,193.2 L515.0,189.4 L516.0,185.5 L517.0,181.2 L518.0,176.6 L519.0,172.0 L520.0,168.0 L521.0,164.6 L522.0,161.4 L523.0,158.5 L524.0,155.6 L525.0,152.8 L526.0,150.0 L527.0,146.9 L528.0,143.4 L529.0,139.9 L530.0,136.5 L531.0,133.0 L532.0,129.6 L533.0,126.4 L534.0,123.5 L535.0,121.0 L536.0,118.7 L537.0,116.5 L538.0,114.4 L539.0,112.5 L540.0,110.8 L541.0,109.1 L542.0,107.5 L543.0,106.0 L544.0,104.7 L545.0,103.4 L546.0,102.3 L547.0,101.3 L548.0,100.4 L549.0,99.5 L550.0,98.5 L551.0,97.5 L552.0,96.4 L553.0,95.4 L554.0,94.4 L555.0,93.4 L556.0,92.6 L557.0,91.7 L558.0,90.8 L559.0,90.0 L560.0,89.3 L561.0,88.6 L562.0,88.0 L563.0,87.6 L564.0,87.2 L565.0,86.9 L566.0,86.6 L567.0,86.4 L568.0,86.1 L569.0,85.9 L570.0,85.6 L571.0,85.3 L572.0,85.0 L573.0,84.7 L574.0,84.3 L575.0,84.0 L576.0,83.7 L577.0,83.4 L578.0,83.1 L579.0,82.8 L580.0,82.6 L581.0,82.4 L582.0,82.2 L583.0,82.0 L584.0,81.8 L585.0,81.6 L586.0,81.4 L587.0,81.2 L588.0,81.1 L589.0,80.9 L590.0,80.7 L591.0,80.6 L592.0,80.4 L593.0,80.3 L594.0,80.1 L595.0,80.0 L596.0,79.9 L597.0,79.8 L598.0,79.7 L599.0,79.6 L600.0,79.5 L601.0,79.4 L602.0,79.4 L603.0,79.3 L604.0,79.3 L605.0,79.2 L606.0,79.1 L607.0,79.1 L608.0,79.0 L609.0,79.0 L610.0,79.0 L611.0,78.9 L612.0,78.9 L613.0,78.8 L614.0,78.8 L615.0,78.8 L616.0,78.7 L617.0,78.7 L618.0,78.6 L619.0,78.6 L620.0,78.6 L621.0,78.6 L622.0,78.5 L623.0,78.5 L624.0,78.5 L625.0,78.4 L626.0,78.4 L627.0,78.4 L628.0,78.4 L629.0,78.3 L630.0,78.3 L631.0,78.3 L632.0,78.2 L633.0,78.2 L634.0,78.2 L635.0,78.2 L636.0,78.1 L637.0,78.1 L638.0,78.1 L639.0,78.1 L640.0,78.0 L641.0,78.0 L642.0,78.0 L643.0,78.0 L644.0,77.9 L645.0,77.9 L646.0,77.9 L647.0,77.9 L648.0,77.9 L649.0,77.8 L650.0,77.8 L651.0,77.8 L652.0,77.8 L653.0,77.8 L654.0,77.7 L655.0,77.7 L656.0,77.7 L657.0,77.7 L658.0,77.7 L659.0,77.7 L660.0,77.6 L661.0,77.6 L662.0,77.6 L663.0,77.6 L664.0,77.6 L664.2,77.6" fill="none" stroke="#d55e00" stroke-width="2.1" stroke-dasharray="10.6 3 1.7 3"/>
<path d="M480.0,269.2 L481.0,269.2 L482.0,269.2 L483.0,269.2 L484.0,269.2 L485.0,269.2 L486.0,269.2 L487.0,269.1 L488.0,269.1 L489.0,269.1 L490.0,269.1 L491.0,269.1 L492.0,269.0 L493.0,268.9 L494.0,268.8 L495.0,268.6 L496.0,268.5 L497.0,268.3 L498.0,268.0 L499.0,267.8 L500.0,267.5 L501.0,267.1 L502.0,266.3 L503.0,265.4 L504.0,264.3 L505.0,263.0 L506.0,261.3 L507.0,259.1 L508.0,256.4 L509.0,253.4 L510.0,249.7 L511.0,245.0 L512.0,237.2 L513.0,232.3 L514.0,229.1 L515.0,226.0 L516.0,221.7 L517.0,216.8 L518.0,211.7 L519.0,206.2 L520.0,196.0 L521.0,182.4 L522.0,172.8 L523.0,165.0 L524.0,150.0 L525.0,139.3 L526.0,132.7 L527.0,126.9 L528.0,120.7 L529.0,115.0 L530.0,110.0 L531.0,107.5 L532.0,105.6 L533.0,103.9 L534.0,102.3 L535.0,100.6 L536.0,99.2 L537.0,97.9 L538.0,96.9 L539.0,96.3 L540.0,95.8 L541.0,95.4 L542.0,95.0 L543.0,94.7 L544.0,94.5 L545.0,94.2 L546.0,93.9 L547.0,93.6 L548.0,93.3 L549.0,92.9 L550.0,92.5 L551.0,92.0 L552.0,91.5 L553.0,90.9 L554.0,90.4 L555.0,89.8 L556.0,89.3 L557.0,88.8 L558.0,88.3 L559.0,87.9 L560.0,87.5 L561.0,87.1 L562.0,86.7 L563.0,86.4 L564.0,86.0 L565.0,85.7 L566.0,85.4 L567.0,85.1 L568.0,84.8 L569.0,84.5 L570.0,84.2 L571.0,84.0 L572.0,83.7 L573.0,83.5 L574.0,83.3 L575.0,83.1 L576.0,82.8 L577.0,82.6 L578.0,82.4 L579.0,82.2 L580.0,82.0 L581.0,81.8 L582.0,81.6 L583.0,81.3 L584.0,81.1 L585.0,80.9 L586.0,80.7 L587.0,80.5 L588.0,80.3 L589.0,80.1 L590.0,80.0 L591.0,79.9 L592.0,79.7 L593.0,79.6 L594.0,79.5 L595.0,79.3 L596.0,79.2 L597.0,79.1 L598.0,79.0 L599.0,78.9 L600.0,78.8 L601.0,78.7 L602.0,78.6 L603.0,78.5 L604.0,78.4 L605.0,78.3 L606.0,78.2 L607.0,78.2 L608.0,78.1 L609.0,78.0 L610.0,78.0 L611.0,78.0 L612.0,77.9 L613.0,77.9 L614.0,77.8 L615.0,77.8 L616.0,77.8 L617.0,77.7 L618.0,77.7 L619.0,77.7 L620.0,77.6 L621.0,77.6 L622.0,77.6 L623.0,77.5 L624.0,77.5 L625.0,77.5 L626.0,77.4 L627.0,77.4 L628.0,77.4 L629.0,77.3 L630.0,77.3 L631.0,77.3 L632.0,77.3 L633.0,77.2 L634.0,77.2 L635.0,77.2 L636.0,77.2 L637.0,77.1 L638.0,77.1 L639.0,77.1 L640.0,77.1 L641.0,77.0 L642.0,77.0 L643.0,77.0 L644.0,77.0 L645.0,77.0 L646.0,77.0 L647.0,76.9 L648.0,76.9 L649.0,76.9 L650.0,76.9 L651.0,76.9 L652.0,76.9 L653.0,76.9 L654.0,76.8 L655.0,76.8 L656.0,76.8 L657.0,76.8 L658.0,76.8 L659.0,76.8 L660.0,76.8 L661.0,76.8 L662.0,76.8 L663.0,76.8 L664.0,76.8 L664.2,76.8" fill="none" stroke="#cc78bc" stroke-width="2.1" stroke-dasharray="1.7 10.6" stroke-dashoffset="10.26"/>
<path d="M475.0,269.2 L476.0,269.2 L477.0,269.2 L478.0,269.2 L479.0,269.2 L480.0,269.2 L481.0,269.2 L482.0,269.1 L483.0,269.1 L484.0,269.1 L485.0,269.1 L486.0,269.1 L487.0,269.0 L488.0,268.9 L489.0,268.8 L490.0,268.7 L491.0,268.5 L492.0,268.3 L493.0,268.1 L494.0,267.9 L495.0,267.6 L496.0,267.3 L497.0,267.0 L498.0,266.4 L499.0,265.5 L500.0,264.2 L501.0,262.7 L502.0,261.0 L503.0,259.0 L504.0,256.5 L505.0,253.4 L506.0,250.0 L507.0,245.9 L508.0,240.8 L509.0,235.0 L510.0,228.6 L511.0,220.0 L512.0,203.9 L513.0,190.8 L514.0,179.4 L515.0,168.5 L516.0,158.0 L517.0,149.1 L518.0,141.6 L519.0,134.8 L520.0,128.8 L521.0,123.8 L522.0,119.6 L523.0,115.6 L524.0,111.9 L525.0,108.5 L526.0,105.4 L527.0,102.6 L528.0,100.1 L529.0,98.1 L530.0,96.5 L531.0,95.1 L532.0,93.8 L533.0,92.7 L534.0,91.6 L535.0,90.7 L536.0,89.8 L537.0,89.0 L538.0,88.3 L539.0,87.6 L540.0,87.0 L541.0,86.4 L542.0,85.8 L543.0,85.3 L544.0,84.7 L545.0,84.2 L546.0,83.7 L547.0,83.3 L548.0,82.9 L549.0,82.5 L550.0,82.1 L551.0,81.7 L552.0,81.4 L553.0,81.1 L554.0,80.8 L555.0,80.5 L556.0,80.3 L557.0,80.0 L558.0,79.8 L559.0,79.6 L560.0,79.4 L561.0,79.2 L562.0,79.0 L563.0,78.8 L564.0,78.7 L565.0,78.5 L566.0,78.4 L567.0,78.2 L568.0,78.1 L569.0,77.9 L570.0,77.8 L571.0,77.7 L572.0,77.6 L573.0,77.4 L574.0,77.3 L575.0,77.2 L576.0,77.1 L577.0,77.1 L578.0,77.0 L579.0,76.9 L580.0,76.9 L581.0,76.9 L582.0,76.8 L583.0,76.8 L584.0,76.8 L585.0,76.7 L586.0,76.7 L587.0,76.7 L588.0,76.7 L589.0,76.6 L590.0,76.6 L591.0,76.6 L592.0,76.6 L593.0,76.6 L594.0,76.6 L595.0,76.5 L596.0,76.5 L597.0,76.5 L598.0,76.5 L599.0,76.5 L600.0,76.5 L601.0,76.5 L602.0,76.5 L603.0,76.5 L604.0,76.5 L605.0,76.5 L606.0,76.5 L607.0,76.5 L608.0,76.5 L609.0,76.4 L610.0,76.4 L611.0,76.4 L612.0,76.4 L613.0,76.4 L614.0,76.4 L615.0,76.4 L616.0,76.4 L617.0,76.4 L618.0,76.4 L619.0,76.4 L620.0,76.4 L621.0,76.4 L622.0,76.4 L623.0,76.4 L624.0,76.4 L625.0,76.4 L626.0,76.4 L627.0,76.4 L628.0,76.4 L629.0,76.4 L630.0,76.4 L631.0,76.4 L632.0,76.4 L633.0,76.3 L634.0,76.3 L635.0,76.3 L636.0,76.3 L637.0,76.3 L638.0,76.3 L639.0,76.3 L640.0,76.3 L641.0,76.3 L642.0,76.3 L643.0,76.3 L644.0,76.3 L645.0,76.3 L646.0,76.3 L647.0,76.3 L648.0,76.3 L649.0,76.3 L650.0,76.3 L651.0,76.3 L652.0,76.3 L653.0,76.3 L654.0,76.3 L655.0,76.3 L656.0,76.3 L657.0,76.3 L658.0,76.3 L659.0,76.3 L660.0,76.3 L661.0,76.3 L662.0,76.3 L663.0,76.3 L664.0,76.3 L664.2,76.3" fill="none" stroke="#ca9161" stroke-width="2.1" stroke-dasharray="8.9 18.6" stroke-dashoffset="25.05"/>
<line x1="391.8" x2="391.8" y1="51.0" y2="269.8" stroke="#222" stroke-width="1.25"/>
<line x1="391.3" x2="664.7" y1="269.3" y2="269.3" stroke="#222" stroke-width="1.25"/>
<line x1="391.8" x2="391.8" y1="269.3" y2="273.5" stroke="#222" stroke-width="1.25"/>
<line x1="437.2" x2="437.2" y1="269.3" y2="273.5" stroke="#222" stroke-width="1.25"/>
<line x1="482.6" x2="482.6" y1="269.3" y2="273.5" stroke="#222" stroke-width="1.25"/>
<line x1="528.0" x2="528.0" y1="269.3" y2="273.5" stroke="#222" stroke-width="1.25"/>
<line x1="573.4" x2="573.4" y1="269.3" y2="273.5" stroke="#222" stroke-width="1.25"/>
<line x1="618.8" x2="618.8" y1="269.3" y2="273.5" stroke="#222" stroke-width="1.25"/>
<line x1="664.2" x2="664.2" y1="269.3" y2="273.5" stroke="#222" stroke-width="1.25"/>
<line x1="387.6" x2="391.8" y1="269.3" y2="269.3" stroke="#222" stroke-width="1.25"/>
<line x1="387.6" x2="391.8" y1="230.6" y2="230.6" stroke="#222" stroke-width="1.25"/>
<line x1="387.6" x2="391.8" y1="192.0" y2="192.0" stroke="#222" stroke-width="1.25"/>
<line x1="387.6" x2="391.8" y1="153.3" y2="153.3" stroke="#222" stroke-width="1.25"/>
<line x1="387.6" x2="391.8" y1="114.7" y2="114.7" stroke="#222" stroke-width="1.25"/>
<line x1="387.6" x2="391.8" y1="76.0" y2="76.0" stroke="#222" stroke-width="1.25"/>
<path d="M69.8,64.4 L89.8,64.4" fill="none" stroke="#111" stroke-width="1.1"/><path d="M67.80,64.40 Q70.80,63.40 72.80,60.20 L73.80,60.70 Q72.10,63.10 71.40,64.40 Q72.10,65.70 73.80,68.10 L72.80,68.60 Q70.80,65.40 67.80,64.40 Z" fill="#111"/>
<path d="M296.2,64.4 L316.8,64.4" fill="none" stroke="#111" stroke-width="1.1"/><path d="M318.80,64.40 Q315.80,63.40 313.80,60.20 L312.80,60.70 Q314.50,63.10 315.20,64.40 Q314.50,65.70 312.80,68.10 L313.80,68.60 Q315.80,65.40 318.80,64.40 Z" fill="#111"/>
<path d="M399.8,64.4 L419.2,64.4" fill="none" stroke="#111" stroke-width="1.1"/><path d="M397.80,64.40 Q400.80,63.40 402.80,60.20 L403.80,60.70 Q402.10,63.10 401.40,64.40 Q402.10,65.70 403.80,68.10 L402.80,68.60 Q400.80,65.40 397.80,64.40 Z" fill="#111"/>
<path d="M626.3,64.4 L645.9,64.4" fill="none" stroke="#111" stroke-width="1.1"/><path d="M647.90,64.40 Q644.90,63.40 642.90,60.20 L641.90,60.70 Q643.60,63.10 644.30,64.40 Q643.60,65.70 641.90,68.10 L642.90,68.60 Q644.90,65.40 647.90,64.40 Z" fill="#111"/>
<line x1="2.1" x2="26.0" y1="343.85" y2="343.85" stroke="#0173b2" stroke-width="2.1"/>
<line x1="69.7" x2="94.6" y1="343.85" y2="343.85" stroke="#de8f05" stroke-width="2.1" stroke-dasharray="6 2.3"/>
<line x1="187.5" x2="211" y1="343.85" y2="343.85" stroke="#029e73" stroke-width="2.1" stroke-dasharray="1.6 2.5"/>
<line x1="337.8" x2="359.2" y1="343.85" y2="343.85" stroke="#d55e00" stroke-width="2.1" stroke-dasharray="10.9 3.4 1.7 3.3"/>
<line x1="412.8" x2="440" y1="343.85" y2="343.85" stroke="#cc78bc" stroke-width="2.1" stroke-dasharray="1.7 10.6"/>
<line x1="509.1" x2="538.2" y1="343.85" y2="343.85" stroke="#ca9161" stroke-width="2.1" stroke-dasharray="8.9 18.8"/>
<text y="15.4" font-size="18.3" font-weight="bold"><tspan x="61.57" textLength="66.45" lengthAdjust="spacingAndGlyphs">Papers</tspan> <tspan x="132.07" textLength="54.77" lengthAdjust="spacingAndGlyphs">going</tspan> <tspan x="192.12" textLength="38.81" lengthAdjust="spacingAndGlyphs">into</tspan> <tspan x="236.79" textLength="70.52" lengthAdjust="spacingAndGlyphs">patents</tspan></text>
<text y="41.2" font-size="18.3" font-weight="bold"><tspan x="62.67" textLength="56.78" lengthAdjust="spacingAndGlyphs">Venue</tspan> <tspan x="124.80" textLength="47.11" lengthAdjust="spacingAndGlyphs">pairs</tspan></text>
<text y="15.4" font-size="18.3" font-weight="bold"><tspan x="392.47" textLength="66.35" lengthAdjust="spacingAndGlyphs">Papers</tspan> <tspan x="462.87" textLength="54.88" lengthAdjust="spacingAndGlyphs">going</tspan> <tspan x="522.92" textLength="38.91" lengthAdjust="spacingAndGlyphs">into</tspan> <tspan x="567.29" textLength="113.83" lengthAdjust="spacingAndGlyphs">repositories</tspan></text>
<text y="41.2" font-size="18.3" font-weight="bold"><tspan x="393.57" textLength="56.78" lengthAdjust="spacingAndGlyphs">Venue</tspan> <tspan x="455.70" textLength="47.11" lengthAdjust="spacingAndGlyphs">pairs</tspan></text>
<text x="90.12" y="70.2" textLength="105.02" lengthAdjust="spacingAndGlyphs" font-size="19.2">Uncommon</text>
<text x="205.34" y="70.2" textLength="84.61" lengthAdjust="spacingAndGlyphs" font-size="19.2">Common</text>
<text x="425.68" y="70.2" textLength="100.60" lengthAdjust="spacingAndGlyphs" font-size="19.2">Uncommon</text>
<text x="540.09" y="70.2" textLength="80.29" lengthAdjust="spacingAndGlyphs" font-size="19.2">Common</text>
<text x="30.98" y="82.8" textLength="20.50" lengthAdjust="spacingAndGlyphs" font-size="18.3">1.0</text>
<text x="29.78" y="121.3" textLength="22.11" lengthAdjust="spacingAndGlyphs" font-size="18.3">0.8</text>
<text x="29.78" y="159.9" textLength="22.12" lengthAdjust="spacingAndGlyphs" font-size="18.3">0.6</text>
<text x="29.79" y="198.6" textLength="21.88" lengthAdjust="spacingAndGlyphs" font-size="18.3">0.4</text>
<text x="29.78" y="237.2" textLength="22.23" lengthAdjust="spacingAndGlyphs" font-size="18.3">0.2</text>
<text x="29.78" y="270.4" textLength="22.04" lengthAdjust="spacingAndGlyphs" font-size="18.3">0.0</text>
<text transform="translate(16.6,270.8) rotate(-90)" textLength="213" lengthAdjust="spacingAndGlyphs" font-size="19.4">Cumulative probability</text>
<text x="45.29" y="294.3" textLength="46.52" lengthAdjust="spacingAndGlyphs" font-size="18.3">-1500</text>
<text x="130.06" y="294.3" textLength="37.67" lengthAdjust="spacingAndGlyphs" font-size="18.3">-500</text>
<text x="193.75" y="294.3" textLength="10.70" lengthAdjust="spacingAndGlyphs" font-size="18.3">0</text>
<text x="226.16" y="294.3" textLength="30.65" lengthAdjust="spacingAndGlyphs" font-size="18.3">500</text>
<text x="304.29" y="294.3" textLength="38.39" lengthAdjust="spacingAndGlyphs" font-size="18.3">1500</text>
<text x="371.46" y="294.3" textLength="48.07" lengthAdjust="spacingAndGlyphs" font-size="18.3">-1500</text>
<text x="459.18" y="294.3" textLength="37.15" lengthAdjust="spacingAndGlyphs" font-size="18.3">-500</text>
<text x="522.76" y="294.3" textLength="10.59" lengthAdjust="spacingAndGlyphs" font-size="18.3">0</text>
<text x="557.17" y="294.3" textLength="30.55" lengthAdjust="spacingAndGlyphs" font-size="18.3">500</text>
<text x="644.92" y="294.3" textLength="37.44" lengthAdjust="spacingAndGlyphs" font-size="18.3">1500</text>
<text y="316.9" font-size="18.3"><tspan x="97.23" textLength="40.11" lengthAdjust="spacingAndGlyphs">10th</tspan> <tspan x="143.36" textLength="89.96" lengthAdjust="spacingAndGlyphs">percentile</tspan> <tspan x="239.79" textLength="65.29" lengthAdjust="spacingAndGlyphs">z-score</tspan></text>
<text y="316.9" font-size="18.3"><tspan x="420.23" textLength="40.11" lengthAdjust="spacingAndGlyphs">10th</tspan> <tspan x="466.36" textLength="89.96" lengthAdjust="spacingAndGlyphs">percentile</tspan> <tspan x="562.79" textLength="65.29" lengthAdjust="spacingAndGlyphs">z-score</tspan></text>
<text x="30.66" y="349.4" textLength="18.44" lengthAdjust="spacingAndGlyphs" font-size="18.9">AI</text>
<text x="99.06" y="349.4" textLength="80.17" lengthAdjust="spacingAndGlyphs" font-size="18.9">Database</text>
<text y="349.4" font-size="18.9"><tspan x="213.91" textLength="40.89" lengthAdjust="spacingAndGlyphs">Data</tspan> <tspan x="260.94" textLength="63.35" lengthAdjust="spacingAndGlyphs">Mining</tspan></text>
<text x="366.03" y="349.4" textLength="32.93" lengthAdjust="spacingAndGlyphs" font-size="18.9">HCI</text>
<text x="446.25" y="349.4" textLength="36.75" lengthAdjust="spacingAndGlyphs" font-size="18.9">NLP</text>
<text y="349.4" font-size="18.9"><tspan x="543.73" textLength="84.29" lengthAdjust="spacingAndGlyphs">Computer</tspan> <tspan x="633.62" textLength="51.41" lengthAdjust="spacingAndGlyphs">Vision</tspan></text>
</svg>
</body></html>
